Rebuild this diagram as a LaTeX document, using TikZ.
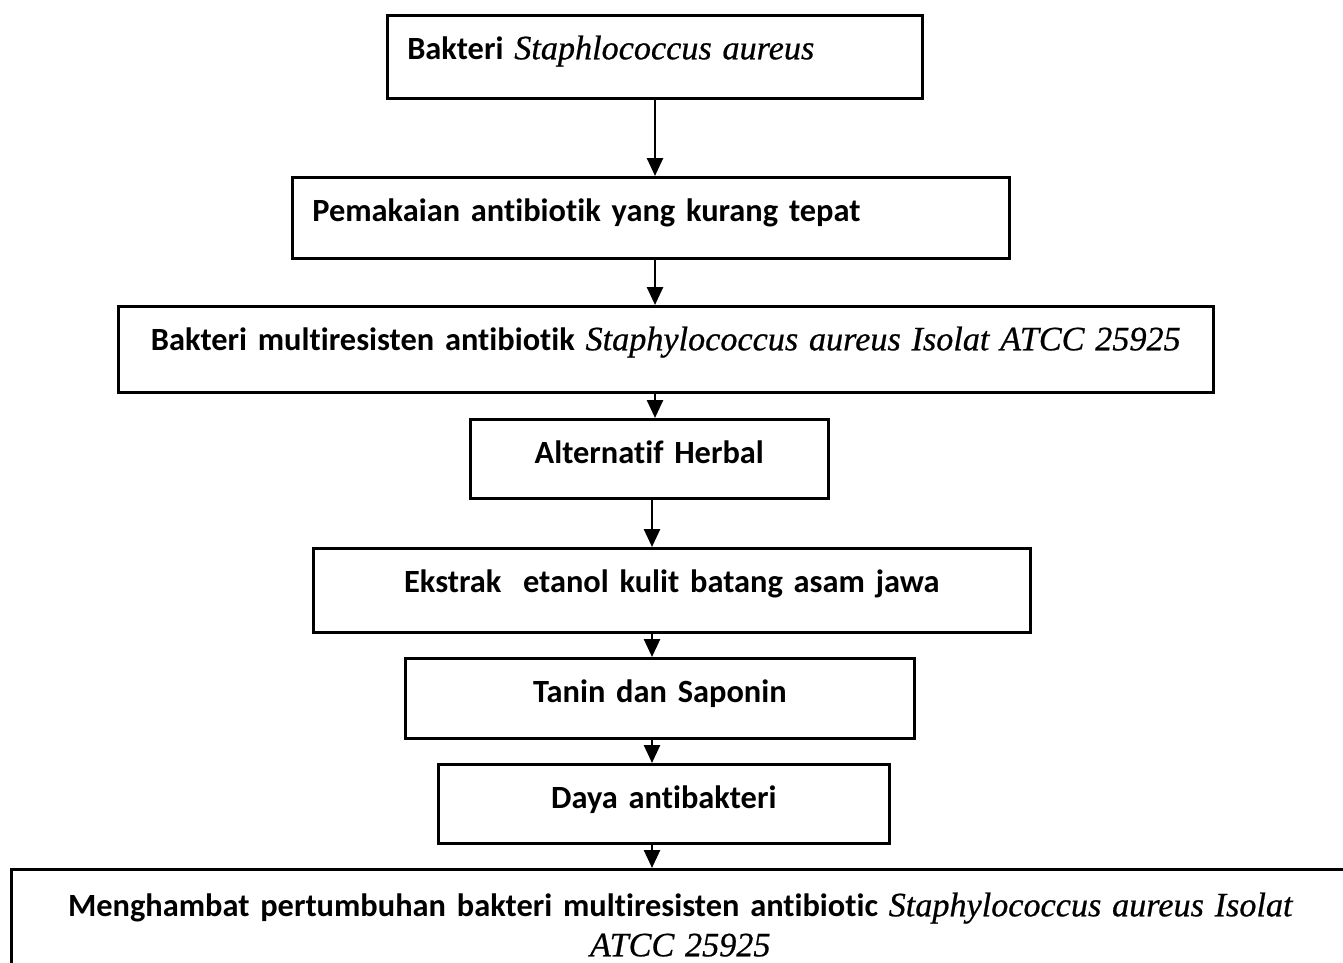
\documentclass[tikz,border=0pt]{standalone}
\usepackage{fontspec}
\setmainfont{Carlito}[Ligatures=CommonOff]
\newfontfamily\latinfont{Liberation Serif}[Scale=1.055, FakeBold=0.6]
\newcommand{\latin}[1]{{\latinfont\itshape\mdseries #1}}
\usetikzlibrary{arrows.meta}

\tikzset{
    stepbox/.style={draw=black, line width=1.3pt, anchor=north west,
        inner xsep=10pt, inner ysep=0pt, text height=22pt,
        font=\fontsize{16.2}{20}\selectfont\bfseries},
    flow/.style={line width=1.3pt, -{Triangle[width=8pt,length=9pt]}}
}

\begin{document}
\begin{tikzpicture}[x=0.5pt, y=-0.5pt]
    \useasboundingbox (0,0) rectangle (1343,963);

    \node[stepbox, text width=247.5pt, align=left, text depth=19.5pt] (Bakteri) at (386,14) {Bakteri \latin{Staphlococcus aureus}};
    \node[stepbox, text width=338.5pt, align=left, text depth=18.5pt] (Pemakaian) at (291,176) {Pemakaian antibiotik yang kurang tepat};
    \node[stepbox, text width=527.5pt, align=center, text depth=21pt] (Multiresisten) at (117,305) {Bakteri multiresisten antibiotik \latin{Staphylococcus aureus Isolat ATCC 25925}};
    \node[stepbox, text width=159pt, align=center, text depth=17.5pt] (Herbal) at (469,418) {Alternatif Herbal};
    \node[stepbox, text width=338.5pt, align=center, text depth=20pt] (Ekstrak) at (312,547) {Ekstrak\ \ etanol kulit batang asam jawa};
    \node[stepbox, text width=234.5pt, align=center, text depth=18pt] (Tanin) at (404,657) {Tanin dan Saponin};
    \node[stepbox, text width=205.5pt, align=center, text depth=17.5pt] (Daya) at (437,763) {Daya antibakteri};
    \node[stepbox, text width=649pt, align=center, text height=23.5pt, text depth=50pt] (Menghambat) at (10,868) {Menghambat pertumbuhan bakteri multiresisten antibiotic \latin{Staphylococcus aureus Isolat}\\ \latin{ATCC 25925}};

    \coordinate (upper) at (655,0);
    \coordinate (lower) at (652,0);

    \draw[flow] (Bakteri.south -| upper) -- (Pemakaian.north -| upper);
    \draw[flow] (Pemakaian.south -| upper) -- (Multiresisten.north -| upper);
    \draw[flow] (Multiresisten.south -| upper) -- (Herbal.north -| upper);
    \draw[flow] (Herbal.south -| lower) -- (Ekstrak.north -| lower);
    \draw[flow] (Ekstrak.south -| lower) -- (Tanin.north -| lower);
    \draw[flow] (Tanin.south -| lower) -- (Daya.north -| lower);
    \draw[flow] (Daya.south -| lower) -- (Menghambat.north -| lower);
\end{tikzpicture}
\end{document}
